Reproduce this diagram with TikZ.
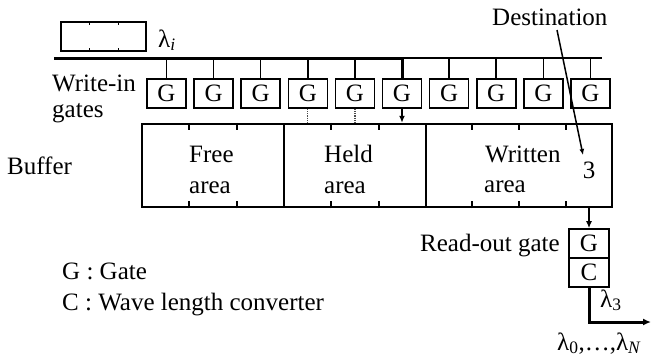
\documentclass[tikz,border=0pt]{standalone}
\usepackage{fontspec}
\setmainfont{Liberation Serif}
\usetikzlibrary{arrows.meta,calc}
\newcommand{\lam}[1]{λ\textsubscript{#1}}
\begin{document}
\begin{tikzpicture}[x=1pt,y=-1pt,
  font=\fontsize{25}{28}\selectfont,
  thinline/.style={line width=1.5pt},
  thickline/.style={line width=3pt},
  label/.style={inner sep=0pt,anchor=base west},
  gatebox/.style={draw,line width=1.6pt,minimum width=39pt,minimum height=29pt,inner sep=0pt},
  area/.style={draw,line width=2.5pt,minimum height=83pt,inner sep=0pt},
  tick/.style={line width=1.5pt},
  tip/.style={-{Latex[length=7pt,width=6pt]}}]
\useasboundingbox (0,0) rectangle (659,360);

% incoming packet on wavelength lambda_i
\node[draw,line width=2pt,minimum width=85pt,minimum height=29pt,inner sep=0pt] (pkt) at (103.5,36.5) {};
\foreach \f in {0.34,0.67}{
  \draw[tick] ($(pkt.north west)!\f!(pkt.north east)$) -- ++(0,4);
  \draw[tick] ($(pkt.south west)!\f!(pkt.south east)$) -- ++(0,-4);
}
\node[label] (lami) at (158,47) {\lam{\textit{i}}};

% input bus
\coordinate (busL) at (54,58);
\coordinate (busR) at (602,58);

% write-in gates
\foreach \k in {0,...,9}{
  \node[gatebox] (g\k) at ({166.5+47.1*\k},93.5) {G};
}
\coordinate (busM) at (g5.north |- busL);
\draw[thickline] (busL) -- (busM);
\draw[thinline] (busM) -- (busR);
\foreach \k in {0,1,2,3,4,6,7,8,9}{
  \draw[thinline] (g\k.north |- busL) -- (g\k.north);
}
\draw[thickline] (busM) -- (g5.north);

\node[label] (wi) at (52,91) {Write-in};
\node[label] (gt) at (52,117) {gates};

% buffer areas
\node[area,minimum width=142pt] (free) at (213,165.5) {};
\node[area,minimum width=142pt] (held) at (355,165.5) {};
\node[area,minimum width=186pt] (written) at (519,165.5) {};
\foreach \a/\fs in {free/{0.333,0.667},held/{0.333,0.667},written/{0.25,0.5,0.75}}{
  \foreach \f in \fs{
    \draw[tick] ($(\a.north west)!\f!(\a.north east)$) -- ++(0,7);
    \draw[tick] ($(\a.south west)!\f!(\a.south east)$) -- ++(0,-7);
  }
}
\node[label] (bf) at (7,174) {Buffer};
\node[label] (freet) at (189,162) {Free};
\node[label] (freea) at (189,193) {area};
\node[label] (heldt) at (324,162) {Held};
\node[label] (helda) at (324,193) {area};
\node[label] (wrt) at (485,162) {Written};
\node[label] (wra) at (484,192) {area};
\node[inner sep=0pt,anchor=base] (three) at (589,178) {3};

% connections from gates into the buffer
\draw[line width=2.2pt,tip] (g5.south) -- (g5.south |- held.north);
\draw[line width=1.2pt,densely dotted,black!70] (g3.south) -- (g3.south |- held.north);
\draw[line width=1.2pt,densely dotted,black!70] (g4.south) -- (g4.south |- held.north);

% destination marker
\node[label] (dest) at (492,25) {Destination};
\coordinate (destS) at (557,30);
\coordinate (destE) at (583,155);
\draw[thinline,-{Latex[length=6pt,width=5pt]}] (destS) -- (destE);

% read-out gate and converter
\node[gatebox,minimum width=40pt] (rg) at (589,243.5) {G};
\node[gatebox,minimum width=40pt] (rc) at (589,272.5) {C};
\draw[line width=2.2pt,tip] (rg.north |- written.south) -- (rg.north);
\node[label] (rot) at (420,251) {Read-out gate};
\coordinate (outC) at (589,322);
\coordinate (outE) at (651,322);
\draw[thickline,-{Latex[length=8pt,width=7pt]}] (rc.south) -- (outC) -- (outE);
\node[label] (lam3) at (600,307) {\lam{3}};
\node[label] (lamN) at (557,350) {\lam{0},\ldots,\lam{\textit{N}}};

% legend
\node[label] (lg1) at (62,279) {G : Gate};
\node[label] (lg2) at (62,310) {C : Wave length converter};
\end{tikzpicture}
\end{document}
